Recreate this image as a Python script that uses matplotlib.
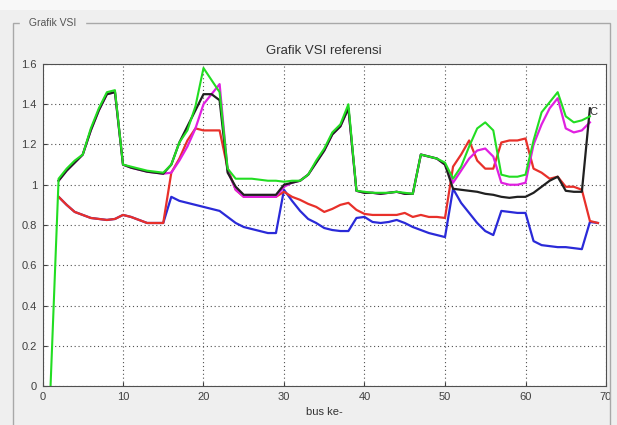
import numpy as np
import matplotlib
matplotlib.use("Agg")
import matplotlib.pyplot as plt
from matplotlib.patches import Rectangle

nan = np.nan

bus = np.arange(1, 70)

# VSI per bus (1..69)
vsi_green = [0.0, 1.03, 1.08, 1.12, 1.15, 1.28, 1.38, 1.46, 1.47, 1.10,
             1.09, 1.08, 1.07, 1.065, 1.06, 1.10, 1.21, 1.27, 1.39, 1.58,
             1.52, 1.46, 1.08, 1.03, 1.03, 1.03, 1.025, 1.02, 1.02, 1.015,
             1.02, 1.02, 1.05, 1.12, 1.18, 1.26, 1.30, 1.40, 0.97, 0.965,
             0.96, 0.96, 0.96, 0.965, 0.96, 0.955, 1.15, 1.14, 1.13, 1.11,
             1.03, 1.09, 1.19, 1.28, 1.31, 1.27, 1.05, 1.04, 1.04, 1.05,
             1.22, 1.36, 1.41, 1.46, 1.34, 1.31, 1.32, 1.34, nan]

vsi_black = [nan, 1.02, 1.07, 1.11, 1.15, 1.27, 1.37, 1.45, 1.46, 1.10,
             1.085, 1.075, 1.065, 1.06, 1.055, 1.10, 1.21, 1.29, 1.37, 1.45,
             1.45, 1.42, 1.06, 0.99, 0.95, 0.95, 0.95, 0.95, 0.95, 1.0,
             1.01, 1.02, 1.05, 1.11, 1.17, 1.25, 1.29, 1.38, 0.97, 0.96,
             0.96, 0.955, 0.96, 0.965, 0.955, 0.955, 1.15, 1.14, 1.13, 1.10,
             0.98, 0.975, 0.97, 0.965, 0.955, 0.95, 0.94, 0.935, 0.94, 0.94,
             0.96, 0.99, 1.02, 1.04, 0.97, 0.965, 0.965, 1.38, nan]

vsi_magenta = [nan, 1.02, 1.07, 1.11, 1.15, 1.27, 1.37, 1.45, 1.46, 1.10,
               1.085, 1.075, 1.065, 1.06, 1.055, 1.06, 1.12, 1.19, 1.28, 1.40,
               1.45, 1.50, 1.07, 0.975, 0.94, 0.94, 0.94, 0.94, 0.94, 0.99,
               1.01, 1.02, 1.05, 1.11, 1.17, 1.25, 1.29, 1.38, 0.97, 0.96,
               0.96, 0.955, 0.96, 0.965, 0.955, 0.955, 1.15, 1.14, 1.13, 1.10,
               1.01, 1.07, 1.13, 1.17, 1.18, 1.14, 1.01, 1.0, 1.0, 1.01,
               1.20, 1.30, 1.38, 1.43, 1.28, 1.26, 1.27, 1.31, nan]

vsi_red = [nan, 0.94, 0.90, 0.865, 0.85, 0.835, 0.83, 0.825, 0.83, 0.85,
           0.84, 0.825, 0.81, 0.81, 0.81, 1.06, 1.13, 1.22, 1.28, 1.27,
           1.27, 1.27, 1.08, 0.975, 0.94, 0.94, 0.94, 0.94, 0.94, 0.965,
           0.94, 0.925, 0.905, 0.89, 0.865, 0.88, 0.90, 0.91, 0.875, 0.855,
           0.85, 0.85, 0.85, 0.85, 0.86, 0.84, 0.85, 0.84, 0.84, 0.835,
           1.09, 1.15, 1.22, 1.12, 1.08, 1.08, 1.21, 1.22, 1.22, 1.23,
           1.08, 1.06, 1.03, 1.04, 0.99, 0.99, 0.975, 0.82, 0.81]

vsi_blue = [nan, 0.94, 0.90, 0.865, 0.85, 0.835, 0.83, 0.825, 0.83, 0.85,
            0.84, 0.825, 0.81, 0.81, 0.81, 0.94, 0.92, 0.91, 0.90, 0.89,
            0.88, 0.87, 0.84, 0.81, 0.79, 0.78, 0.77, 0.76, 0.76, 0.975,
            0.92, 0.87, 0.83, 0.81, 0.785, 0.775, 0.77, 0.77, 0.835, 0.84,
            0.815, 0.81, 0.815, 0.825, 0.81, 0.79, 0.775, 0.76, 0.75, 0.74,
            0.98, 0.91, 0.86, 0.81, 0.77, 0.75, 0.87, 0.865, 0.86, 0.86,
            0.72, 0.70, 0.695, 0.69, 0.69, 0.685, 0.68, 0.815, 0.81]

xticks = [0, 10, 20, 30, 40, 50, 60, 70]
yticks = [0, 0.2, 0.4, 0.6, 0.8, 1.0, 1.2, 1.4, 1.6]
yticklabels = ["0", "0.2", "0.4", "0.6", "0.8", "1", "1.2", "1.4", "1.6"]

plt.rcParams['font.family'] = ['Liberation Sans', 'DejaVu Sans']

fig = plt.figure(figsize=(6.17, 4.25), dpi=100)
fig.patch.set_facecolor('#efefef')

# light strip on top and the uipanel frame
fig.patches.append(Rectangle((0, 1 - 10 / 425), 1, 10 / 425, transform=fig.transFigure,
                             facecolor='#f8f8f8', edgecolor='none', zorder=0))
fig.patches.append(Rectangle((13 / 617, -0.05), (610 - 13) / 617, 1.05 - 23 / 425,
                             transform=fig.transFigure, facecolor='none',
                             edgecolor='#a8a8a8', lw=1.0, zorder=1))
fig.text(26 / 617, 1 - 23 / 425, " Grafik VSI ", fontsize=7.5, color='#555555',
         va='center', ha='left', backgroundcolor='#efefef', zorder=2)

ax = fig.add_axes([42.5 / 617, 1 - 386 / 425, (606 - 42.5) / 617, (386 - 64) / 425])
ax.set_facecolor('white')

ax.plot(bus, vsi_blue, color='#2a2ad8', lw=1.6)
ax.plot(bus, vsi_red, color='#e8302a', lw=1.6)
ax.plot(bus, vsi_magenta, color='#e020e0', lw=1.6)
ax.plot(bus, vsi_black, color='#202020', lw=1.6)
ax.plot(bus, vsi_green, color='#22dd22', lw=1.5)

ax.text(67.9, 1.36, "C", fontsize=8, color='#303030', ha='left', va='center')

ax.set_xlim(0, 70)
ax.set_ylim(0, 1.6)
ax.set_xticks(xticks)
ax.set_yticks(yticks)
ax.set_yticklabels(yticklabels)
ax.tick_params(direction='in', length=3, labelsize=8, colors='#404040', pad=4)
ax.grid(True, linestyle=(0, (1, 2.5)), color='#505050', lw=0.8)
for s in ax.spines.values():
    s.set_color('#505050')

ax.set_title("Grafik VSI referensi", fontsize=9.5, color='#333333', pad=7)
ax.set_xlabel("bus ke-", fontsize=8, color='#333333', labelpad=4)

fig.savefig("out.png", dpi=100, facecolor=fig.get_facecolor())
